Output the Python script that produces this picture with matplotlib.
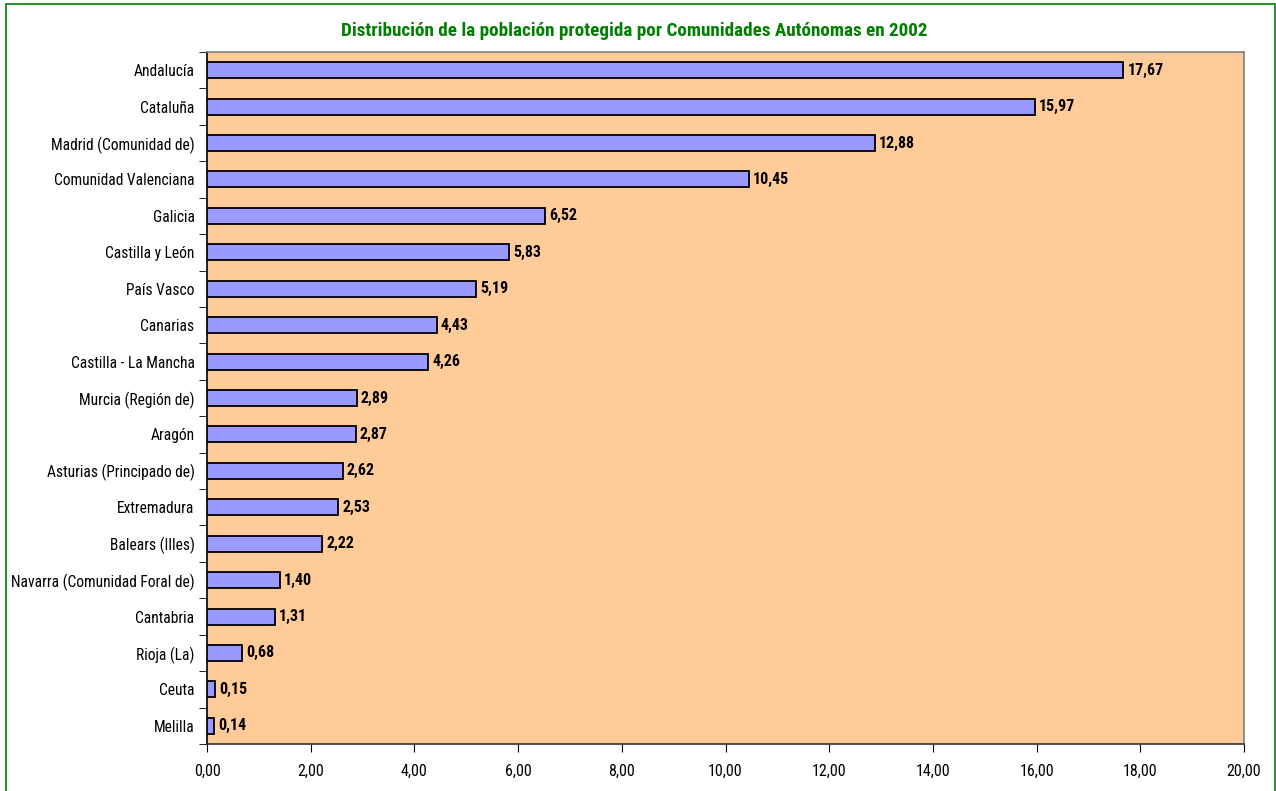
import matplotlib
matplotlib.use("Agg")
import matplotlib.pyplot as plt
from matplotlib.patches import Rectangle

plt.rcParams['font.family'] = ['Roboto Condensed', 'Liberation Sans', 'DejaVu Sans']

comunidades = [
    "Andalucía", "Cataluña", "Madrid (Comunidad de)", "Comunidad Valenciana",
    "Galicia", "Castilla y León", "País Vasco", "Canarias",
    "Castilla - La Mancha", "Murcia (Región de)", "Aragón",
    "Asturias (Principado de)", "Extremadura", "Balears (Illes)",
    "Navarra (Comunidad Foral de)", "Cantabria", "Rioja (La)", "Ceuta", "Melilla",
]
porcentajes = [17.67, 15.97, 12.88, 10.45, 6.52, 5.83, 5.19, 4.43, 4.26, 2.89,
               2.87, 2.62, 2.53, 2.22, 1.40, 1.31, 0.68, 0.15, 0.14]
xticks = [0, 2, 4, 6, 8, 10, 12, 14, 16, 18, 20]

W, H = 1276, 791
fig = plt.figure(figsize=(W / 100, H / 100), dpi=100)

# marco verde del grafico
fig.patches.append(Rectangle((6 / W, -0.01), (1269 / W), 1 - 4 / H + 0.01,
                             transform=fig.transFigure, fill=False,
                             edgecolor='#008000', linewidth=1.2))

ax = fig.add_axes([207 / W, 1 - 744 / H, (1244 - 207) / W, (744 - 52) / H])
ax.set_facecolor('#FFCC99')

n = len(comunidades)
pos = list(range(n))
ax.barh(pos, porcentajes, height=0.44, color='#9999FF', edgecolor='black',
        linewidth=1.3, zorder=3)

for p, v in zip(pos, porcentajes):
    ax.text(v + 0.08, p, f"{v:.2f}".replace('.', ','), va='center', ha='left',
            fontsize=11.5, fontweight='bold', zorder=4)

ax.set_xlim(0, 20)
ax.set_ylim(n - 0.5, -0.5)
ax.set_xticks(xticks)
ax.set_xticklabels([f"{t:.2f}".replace('.', ',') for t in xticks], fontsize=11.5)

ax.set_yticks(pos)
ax.set_yticklabels(comunidades, fontsize=11.2)
ax.tick_params(axis='y', which='major', length=0, pad=9)
ax.set_yticks([i - 0.5 for i in range(n + 1)], minor=True)
ax.tick_params(axis='y', which='minor', length=6, direction='out', color='black')
ax.tick_params(axis='x', length=6, direction='out', pad=8)

ax.spines['left'].set_color('black')
ax.spines['bottom'].set_color('#333333')
ax.spines['top'].set_color('#808080')
ax.spines['right'].set_color('#808080')
for s in ax.spines.values():
    s.set_linewidth(1.2)

fig.text(634 / W, 1 - 31 / H,
         "Distribución de la población protegida por Comunidades Autónomas en 2002",
         ha='center', va='center', color='#008000', fontsize=13.8, fontweight='bold')

fig.savefig("out.png", dpi=100)
